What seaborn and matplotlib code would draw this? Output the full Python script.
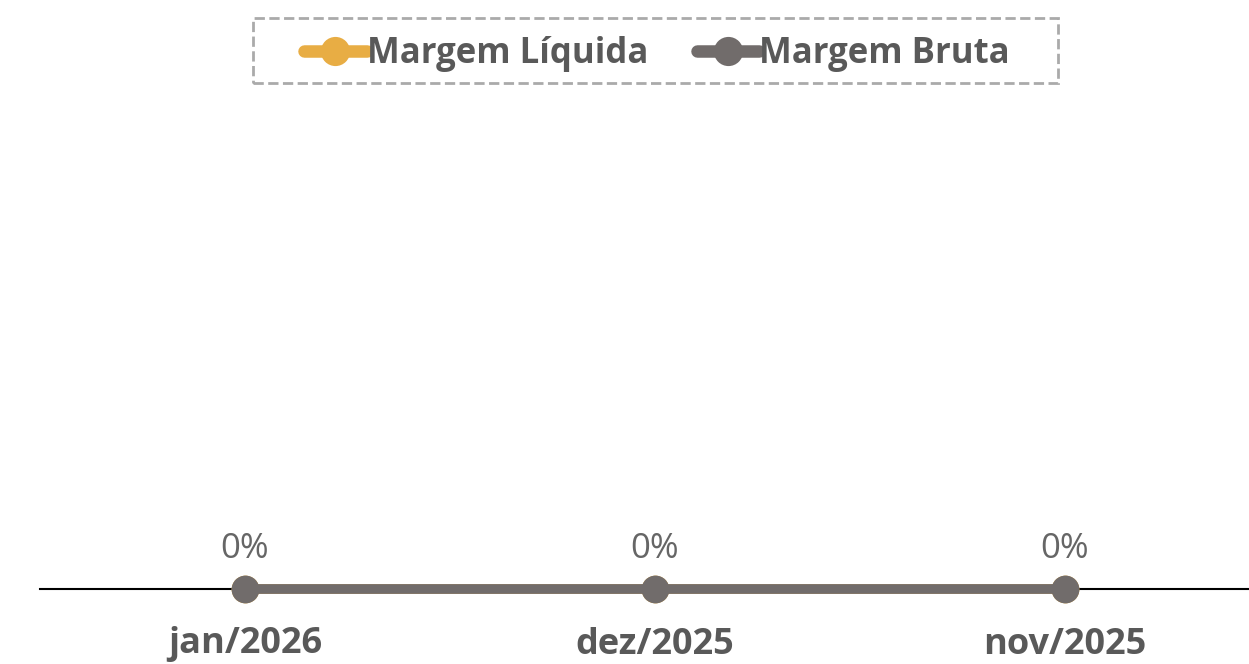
import numpy as np
import pandas as pd
import matplotlib.pyplot as plt
import seaborn as sns
from matplotlib.patches import Rectangle

months = ["jan/2026", "dez/2025", "nov/2025"]
margem_liquida = [0, 0, 0]
margem_bruta = [0, 0, 0]
series_names = ["Margem Líquida", "Margem Bruta"]
colors = ["#e8ad44", "#716c6b"]

df = pd.DataFrame({
    "mes": months * 2,
    "valor": margem_liquida + margem_bruta,
    "serie": [series_names[0]] * 3 + [series_names[1]] * 3,
})
df["pos"] = df.groupby("serie").cumcount()

sns.set_style("white")
plt.rcParams["font.family"] = ["Open Sans", "DejaVu Sans"]

W, H = 1249, 664
fig = plt.figure(figsize=(W / 100, H / 100), dpi=100)
ax = fig.add_axes([40 / W, 75 / H, 1 - 40 / W, 0.75])

sns.lineplot(data=df, x="pos", y="valor", hue="serie", palette=colors,
             hue_order=series_names, marker="o", markersize=20, linewidth=7,
             markeredgewidth=0, ax=ax, clip_on=False, legend=True)

ax.set_xlim(-0.5, 2.45)
ax.set_ylim(0, 1)
ax.set_xticks(range(len(months)))
ax.set_xticklabels(months, fontsize=26, fontweight="bold", color="#595959")
ax.set_yticks([])
ax.set_xlabel("")
ax.set_ylabel("")
ax.tick_params(axis="x", length=0, pad=27)
for s in ["top", "right", "left"]:
    ax.spines[s].set_visible(False)
ax.spines["bottom"].set_color("black")
ax.spines["bottom"].set_linewidth(1.5)
ax.spines["bottom"].set_zorder(0)

# data labels
for i, v in enumerate(margem_bruta):
    ax.annotate(f"{v:.0f}%", (i, v), xytext=(0, 29), textcoords="offset points",
                ha="center", va="center", fontsize=25, color="#666666",
                annotation_clip=False)

handles, labels = ax.get_legend_handles_labels()
ax.legend_.remove()
leg = fig.legend(handles, labels, loc="center", bbox_to_anchor=(657 / W, 1 - 54 / H),
                 ncol=2, frameon=False, handlelength=1.8,
                 handletextpad=0.0, columnspacing=1.4,
                 prop={"size": 25, "weight": "bold"})
for t in leg.get_texts():
    t.set_color("#595959")
for h in leg.legend_handles:
    h.set_linewidth(9)
    h.set_markersize(21)

# dashed legend box
box = Rectangle((253 / W, 1 - 83 / H), 805 / W, 65 / H, transform=fig.transFigure,
                fill=False, edgecolor="#aaaaaa", linestyle="--", linewidth=2)
fig.patches.append(box)

fig.savefig("out.png", dpi=100)
